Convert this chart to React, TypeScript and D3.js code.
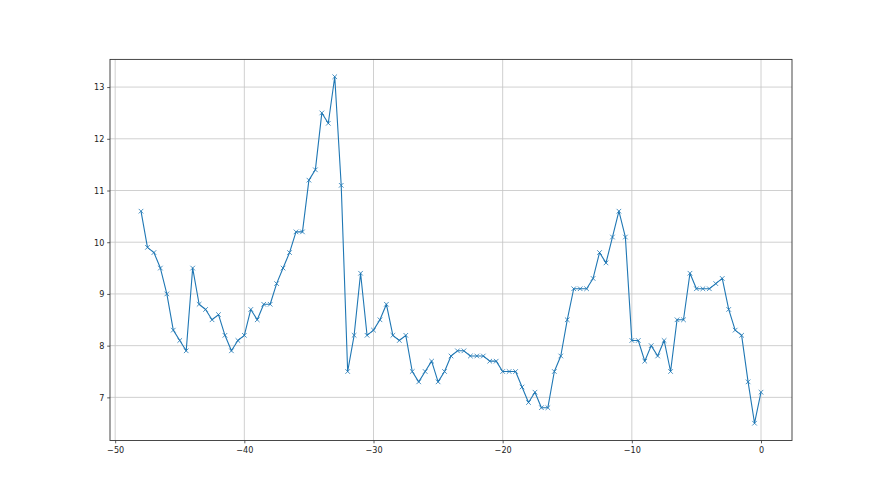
import React, { useEffect, useRef } from "react";
import * as d3 from "d3";

// x positions (step 0.5) and the plotted values
const xValues: number[] = d3.range(-48, 0.01, 0.5);
const yValues: number[] = [
  10.6, 9.9, 9.8, 9.5, 9.0, 8.3, 8.1, 7.9, 9.5, 8.8, 8.7, 8.5, 8.6, 8.2, 7.9,
  8.1, 8.2, 8.7, 8.5, 8.8, 8.8, 9.2, 9.5, 9.8, 10.2, 10.2, 11.2, 11.4, 12.5,
  12.3, 13.2, 11.1, 7.5, 8.2, 9.4, 8.2, 8.3, 8.5, 8.8, 8.2, 8.1, 8.2, 7.5, 7.3,
  7.5, 7.7, 7.3, 7.5, 7.8, 7.9, 7.9, 7.8, 7.8, 7.8, 7.7, 7.7, 7.5, 7.5, 7.5,
  7.2, 6.9, 7.1, 6.8, 6.8, 7.5, 7.8, 8.5, 9.1, 9.1, 9.1, 9.3, 9.8, 9.6, 10.1,
  10.6, 10.1, 8.1, 8.1, 7.7, 8.0, 7.8, 8.1, 7.5, 8.5, 8.5, 9.4, 9.1, 9.1, 9.1,
  9.2, 9.3, 8.7, 8.3, 8.2, 7.3, 6.5, 7.1,
];
const xTicks = [-50, -40, -30, -20, -10, 0];
const yTicks = [7, 8, 9, 10, 11, 12, 13];

function App() {
  const ref = useRef(null);

  useEffect(() => {
    const width = 880;
    const height = 495;
    const margin = { top: 59.4, bottom: 54.45, left: 110, right: 88 };

    const svg = d3.select(ref.current);
    svg.selectAll("*").remove();
    svg.attr("width", width).attr("height", height);

    const data = xValues.map((x, i) => ({ x: x, y: yValues[i] }));

    // matplotlib style 5% margins
    const xPad = (0 - -48) * 0.05;
    const yPad = (13.2 - 6.5) * 0.05;

    const x = d3
      .scaleLinear()
      .domain([-48 - xPad, 0 + xPad])
      .range([margin.left, width - margin.right]);
    const y = d3
      .scaleLinear()
      .domain([6.5 - yPad, 13.2 + yPad])
      .range([height - margin.bottom, margin.top]);

    const fmt = (d: any) => String(d).replace("-", "\u2212");

    // grid
    const grid = svg.append("g").attr("stroke", "#c4c4c4").attr("stroke-width", 0.8);
    xTicks.forEach((t) => {
      grid
        .append("line")
        .attr("x1", x(t))
        .attr("x2", x(t))
        .attr("y1", margin.top)
        .attr("y2", height - margin.bottom);
    });
    yTicks.forEach((t) => {
      grid
        .append("line")
        .attr("x1", margin.left)
        .attr("x2", width - margin.right)
        .attr("y1", y(t))
        .attr("y2", y(t));
    });

    // line
    const line = d3
      .line<any>()
      .x((d) => x(d.x))
      .y((d) => y(d.y));

    svg
      .append("path")
      .datum(data)
      .attr("fill", "none")
      .attr("stroke", "#1f77b4")
      .attr("stroke-width", 1.1)
      .attr("stroke-linejoin", "round")
      .attr("d", line);

    // x markers
    const m = 2.3;
    svg
      .append("g")
      .attr("stroke", "#1f77b4")
      .attr("stroke-width", 0.8)
      .selectAll("path")
      .data(data)
      .enter()
      .append("path")
      .attr(
        "d",
        (d) =>
          `M${x(d.x) - m},${y(d.y) - m}L${x(d.x) + m},${y(d.y) + m}M${x(d.x) - m},${y(d.y) + m}L${x(d.x) + m},${y(d.y) - m}`
      );

    // axes
    const xAxis = svg
      .append("g")
      .attr("transform", "translate(0," + (height - margin.bottom) + ")")
      .call(d3.axisBottom(x).tickValues(xTicks).tickSize(2.8).tickPadding(2.8).tickFormat(fmt));
    const yAxis = svg
      .append("g")
      .attr("transform", "translate(" + margin.left + ",0)")
      .call(d3.axisLeft(y).tickValues(yTicks).tickSize(2.8).tickPadding(2.8).tickFormat(fmt));

    [xAxis, yAxis].forEach((a) => {
      a.select(".domain").remove();
      a.selectAll("line").attr("stroke", "#333").attr("stroke-width", 0.8);
      a.selectAll("text")
        .attr("fill", "#222")
        .attr("font-family", "DejaVu Sans Condensed, DejaVu Sans")
        .attr("font-stretch", "condensed")
        .attr("font-size", 9);
    });

    // frame
    svg
      .append("rect")
      .attr("x", margin.left)
      .attr("y", margin.top)
      .attr("width", width - margin.left - margin.right)
      .attr("height", height - margin.top - margin.bottom)
      .attr("fill", "none")
      .attr("stroke", "#333")
      .attr("stroke-width", 0.9);
  }, []);

  return (
    <div style={{ position: "absolute", left: 0, top: 0 }}>
      <svg ref={ref} style={{ display: "block", background: "#fff" }} />
    </div>
  );
}

export default App;
